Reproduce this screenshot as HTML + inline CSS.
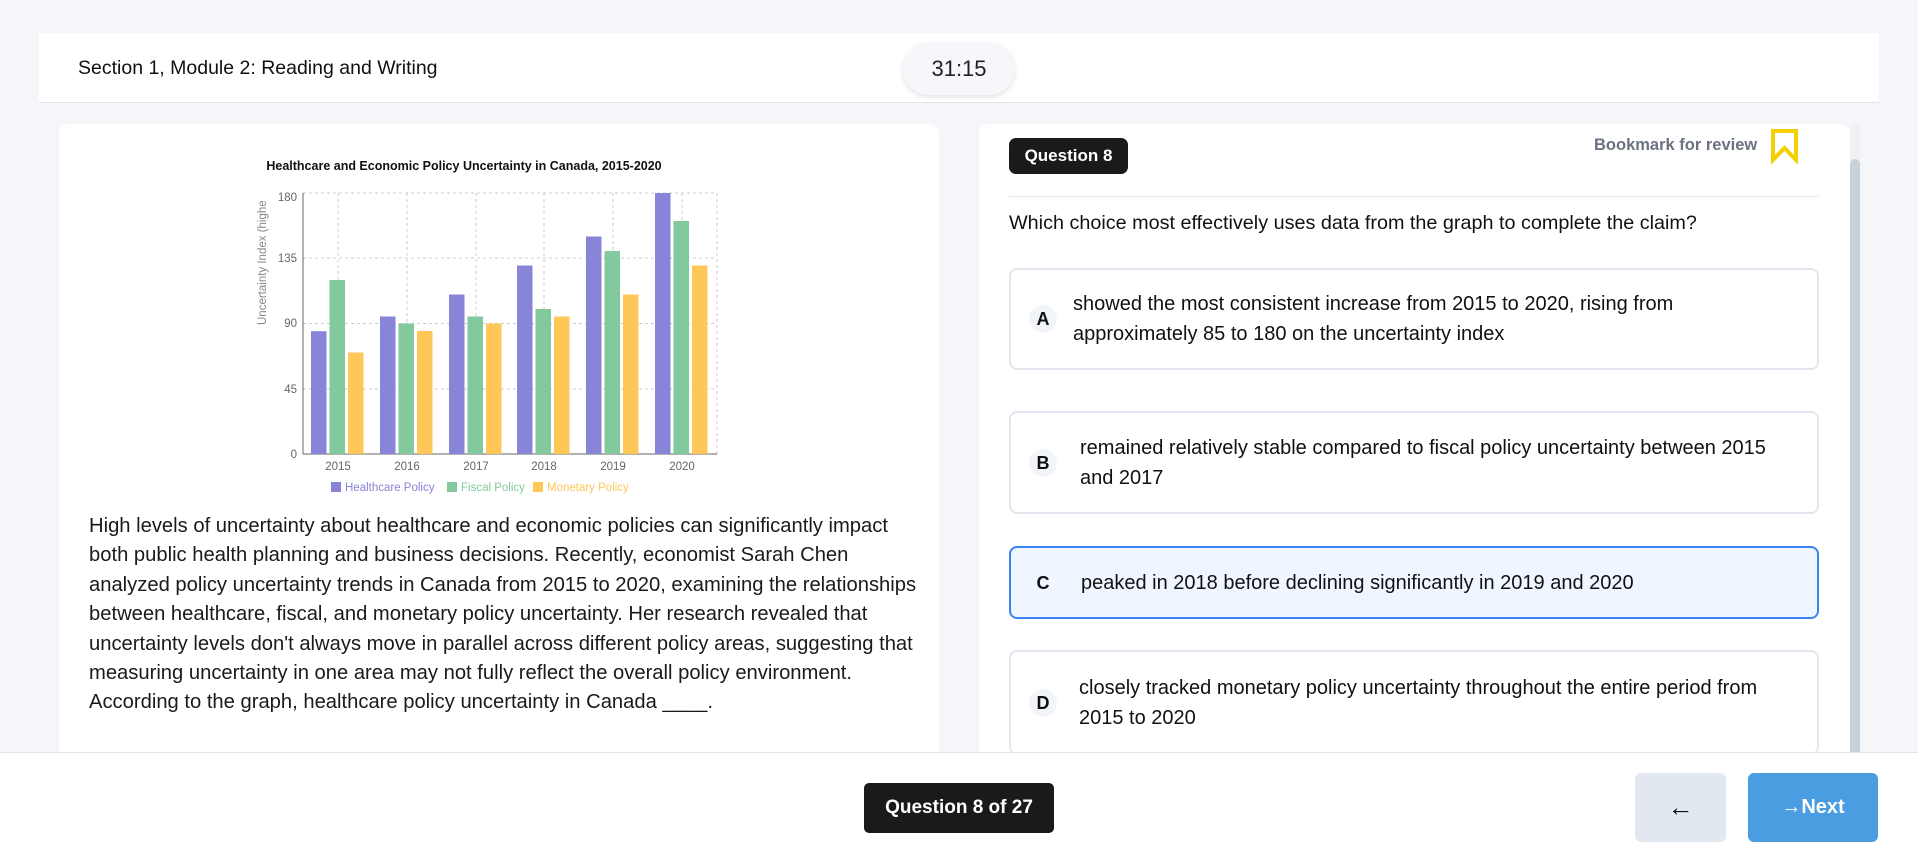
<!DOCTYPE html>
<html><head><meta charset="utf-8"><style>
*{box-sizing:border-box;margin:0;padding:0}
body{width:1918px;height:855px;background:#f5f6f9;font-family:"Liberation Sans",sans-serif;position:relative;overflow:hidden;color:#111}
.hdr{position:absolute;left:39px;top:33px;width:1840px;height:70px;background:#fff;border-bottom:1px solid #e2e6ec}
.hdr .t{position:absolute;left:39px;top:24px;font-size:19.5px}
.timer{position:absolute;left:903px;top:43px;width:112px;height:52px;background:#f5f7fa;border-radius:26px;box-shadow:0 2px 6px rgba(0,0,0,.12);font-size:22px;text-align:center;line-height:52px;color:#222}
.lp{position:absolute;left:59px;top:124px;width:880px;height:640px;background:#fff;border-radius:10px}
.rp{position:absolute;left:979px;top:124px;width:871px;height:640px;background:#fff;border-radius:10px}
.sb{position:absolute;left:1850px;top:124px;width:10px;height:640px;background:#f1f1f1}
.sb div{position:absolute;left:0;top:35px;width:10px;height:600px;background:#c8d0da;border-radius:5px}
.para{position:absolute;left:89px;top:512px;font-size:20.2px;line-height:29.4px;color:#1a1a1a;white-space:nowrap}
.badge{position:absolute;left:1009px;top:138px;width:119px;height:36px;background:#1a1a1a;color:#fff;border-radius:7px;font-size:17px;font-weight:bold;text-align:center;line-height:36px}
.bm{position:absolute;left:1594px;top:136px;font-size:16.5px;color:#6b7280;font-weight:bold}
.div{position:absolute;left:1009px;top:196px;width:810px;height:1px;background:#e3e7ed}
.q{position:absolute;left:1009px;top:212px;font-size:19.8px;color:#111;white-space:nowrap}
.opt{position:absolute;left:1009px;width:810px;border:2px solid #e2e7ef;border-radius:8px;background:#fff;font-size:20px;line-height:30px;color:#111}
.opt .l{position:absolute;left:18px;top:50%;margin-top:-14px;width:28px;height:28px;border-radius:14px;background:#f1f4f8;text-align:center;line-height:28px;font-weight:bold;font-size:18px}
.opt .tx{position:absolute;left:62px;top:50%;transform:translateY(-50%);white-space:nowrap}
.foot{position:absolute;left:0;top:752px;width:1918px;height:103px;background:#fff;border-top:1px solid #e2e6ec}
.qn{position:absolute;left:864px;top:783px;width:190px;height:50px;background:#1a1a1a;color:#fff;border-radius:5px;font-size:19px;font-weight:bold;text-align:center;line-height:50px}
.back{position:absolute;left:1635px;top:773px;width:91px;height:69px;background:#e2e8f0;border-radius:6px;text-align:center;line-height:69px;font-size:26px}
.next{position:absolute;left:1748px;top:773px;width:130px;height:69px;background:#4a9de0;border-radius:6px;text-align:center;line-height:69px;font-size:20px;color:#fff;font-weight:bold}
</style></head><body>
<div class="hdr"><div class="t">Section 1, Module 2: Reading and Writing</div></div>
<div class="timer">31:15</div>
<div class="lp"></div>
<svg style="position:absolute;left:0;top:0" width="960" height="520">
<text x="464" y="170" text-anchor="middle" font-size="12.5" font-weight="bold" font-family="Liberation Sans" fill="#111">Healthcare and Economic Policy Uncertainty in Canada, 2015-2020</text>
<g stroke="#ccc" stroke-dasharray="3 3" stroke-width="1">
<line x1="303" y1="193" x2="717" y2="193"/><line x1="303" y1="258" x2="717" y2="258"/><line x1="303" y1="323.5" x2="717" y2="323.5"/><line x1="303" y1="389" x2="717" y2="389"/>
<line x1="338" y1="193" x2="338" y2="454"/><line x1="407" y1="193" x2="407" y2="454"/><line x1="476" y1="193" x2="476" y2="454"/><line x1="544" y1="193" x2="544" y2="454"/><line x1="613" y1="193" x2="613" y2="454"/><line x1="682" y1="193" x2="682" y2="454"/><line x1="717" y1="193" x2="717" y2="454"/>
</g>
<line x1="303" y1="193" x2="303" y2="454" stroke="#666"/><line x1="303" y1="454" x2="717" y2="454" stroke="#666"/>
<g font-size="11.5" fill="#666" font-family="Liberation Sans" text-anchor="end">
<text x="297" y="201">180</text><text x="297" y="262">135</text><text x="297" y="327">90</text><text x="297" y="393">45</text><text x="297" y="458">0</text></g>
<g font-size="11.5" fill="#666" font-family="Liberation Sans" text-anchor="middle">
<text x="338" y="470">2015</text><text x="407" y="470">2016</text><text x="476" y="470">2017</text><text x="544" y="470">2018</text><text x="613" y="470">2019</text><text x="682" y="470">2020</text></g>
<text transform="translate(266,325) rotate(-90)" font-size="11.5" fill="#888" font-family="Liberation Sans">Uncertainty Index (highe</text>
<g font-size="11.5" font-family="Liberation Sans">
<rect x="331" y="482" width="10" height="10" fill="#8884d8"/><text x="345" y="491" fill="#8884d8">Healthcare Policy</text>
<rect x="447" y="482" width="10" height="10" fill="#82ca9d"/><text x="461" y="491" fill="#82ca9d">Fiscal Policy</text>
<rect x="533" y="482" width="10" height="10" fill="#ffc658"/><text x="547" y="491" fill="#ffc658">Monetary Policy</text></g>
<g>
<rect x="311" y="331.2" width="15.5" height="122.8" fill="#8884d8"/><rect x="329.5" y="280" width="15.5" height="174" fill="#82ca9d"/><rect x="348" y="352.5" width="15.5" height="101.5" fill="#ffc658"/>
<rect x="380" y="316.5" width="15.5" height="137.5" fill="#8884d8"/><rect x="398.5" y="323.5" width="15.5" height="130.5" fill="#82ca9d"/><rect x="417" y="331" width="15.5" height="123" fill="#ffc658"/>
<rect x="449" y="294.5" width="15.5" height="159.5" fill="#8884d8"/><rect x="467.5" y="316.5" width="15.5" height="137.5" fill="#82ca9d"/><rect x="486" y="323.5" width="15.5" height="130.5" fill="#ffc658"/>
<rect x="517" y="265.5" width="15.5" height="188.5" fill="#8884d8"/><rect x="535.5" y="309" width="15.5" height="145" fill="#82ca9d"/><rect x="554" y="316.5" width="15.5" height="137.5" fill="#ffc658"/>
<rect x="586" y="236.5" width="15.5" height="217.5" fill="#8884d8"/><rect x="604.5" y="251" width="15.5" height="203" fill="#82ca9d"/><rect x="623" y="294.5" width="15.5" height="159.5" fill="#ffc658"/>
<rect x="655" y="193" width="15.5" height="261" fill="#8884d8"/><rect x="673.5" y="221" width="15.5" height="233" fill="#82ca9d"/><rect x="692" y="265.5" width="15.5" height="188.5" fill="#ffc658"/>
</g>
</svg>
<div class="para">High levels of uncertainty about healthcare and economic policies can significantly impact<br>both public health planning and business decisions. Recently, economist Sarah Chen<br>analyzed policy uncertainty trends in Canada from 2015 to 2020, examining the relationships<br>between healthcare, fiscal, and monetary policy uncertainty. Her research revealed that<br>uncertainty levels don't always move in parallel across different policy areas, suggesting that<br>measuring uncertainty in one area may not fully reflect the overall policy environment.<br>According to the graph, healthcare policy uncertainty in Canada ____.</div>
<div class="rp"></div>
<div class="sb"><div></div></div>
<div class="badge">Question 8</div>
<div class="bm">Bookmark for review</div>
<svg style="position:absolute;left:1770px;top:128px" width="30" height="36"><path d="M3 3 H26 V32 L14.5 20 L3 32 Z" fill="none" stroke="#f5d000" stroke-width="4" stroke-linejoin="miter"/></svg>
<div class="div"></div>
<div class="q">Which choice most effectively uses data from the graph to complete the claim?</div>
<div class="opt" style="top:268px;height:102px"><div class="l">A</div><div class="tx">showed the most consistent increase from 2015 to 2020, rising from<br>approximately 85 to 180 on the uncertainty index</div></div>
<div class="opt" style="top:411px;height:103px"><div class="l">B</div><div class="tx" style="left:69px">remained relatively stable compared to fiscal policy uncertainty between 2015<br>and 2017</div></div>
<div class="opt" style="top:546px;height:73px;border-color:#3b82f6;background:#eff6ff"><div class="l" style="background:none">C</div><div class="tx" style="left:70px">peaked in 2018 before declining significantly in 2019 and 2020</div></div>
<div class="opt" style="top:650px;height:105px"><div class="l">D</div><div class="tx" style="left:68px">closely tracked monetary policy uncertainty throughout the entire period from<br>2015 to 2020</div></div>
<div class="foot"></div>
<div class="qn">Question 8 of 27</div>
<div class="back">←</div>
<div class="next">→Next</div>
</body></html>
